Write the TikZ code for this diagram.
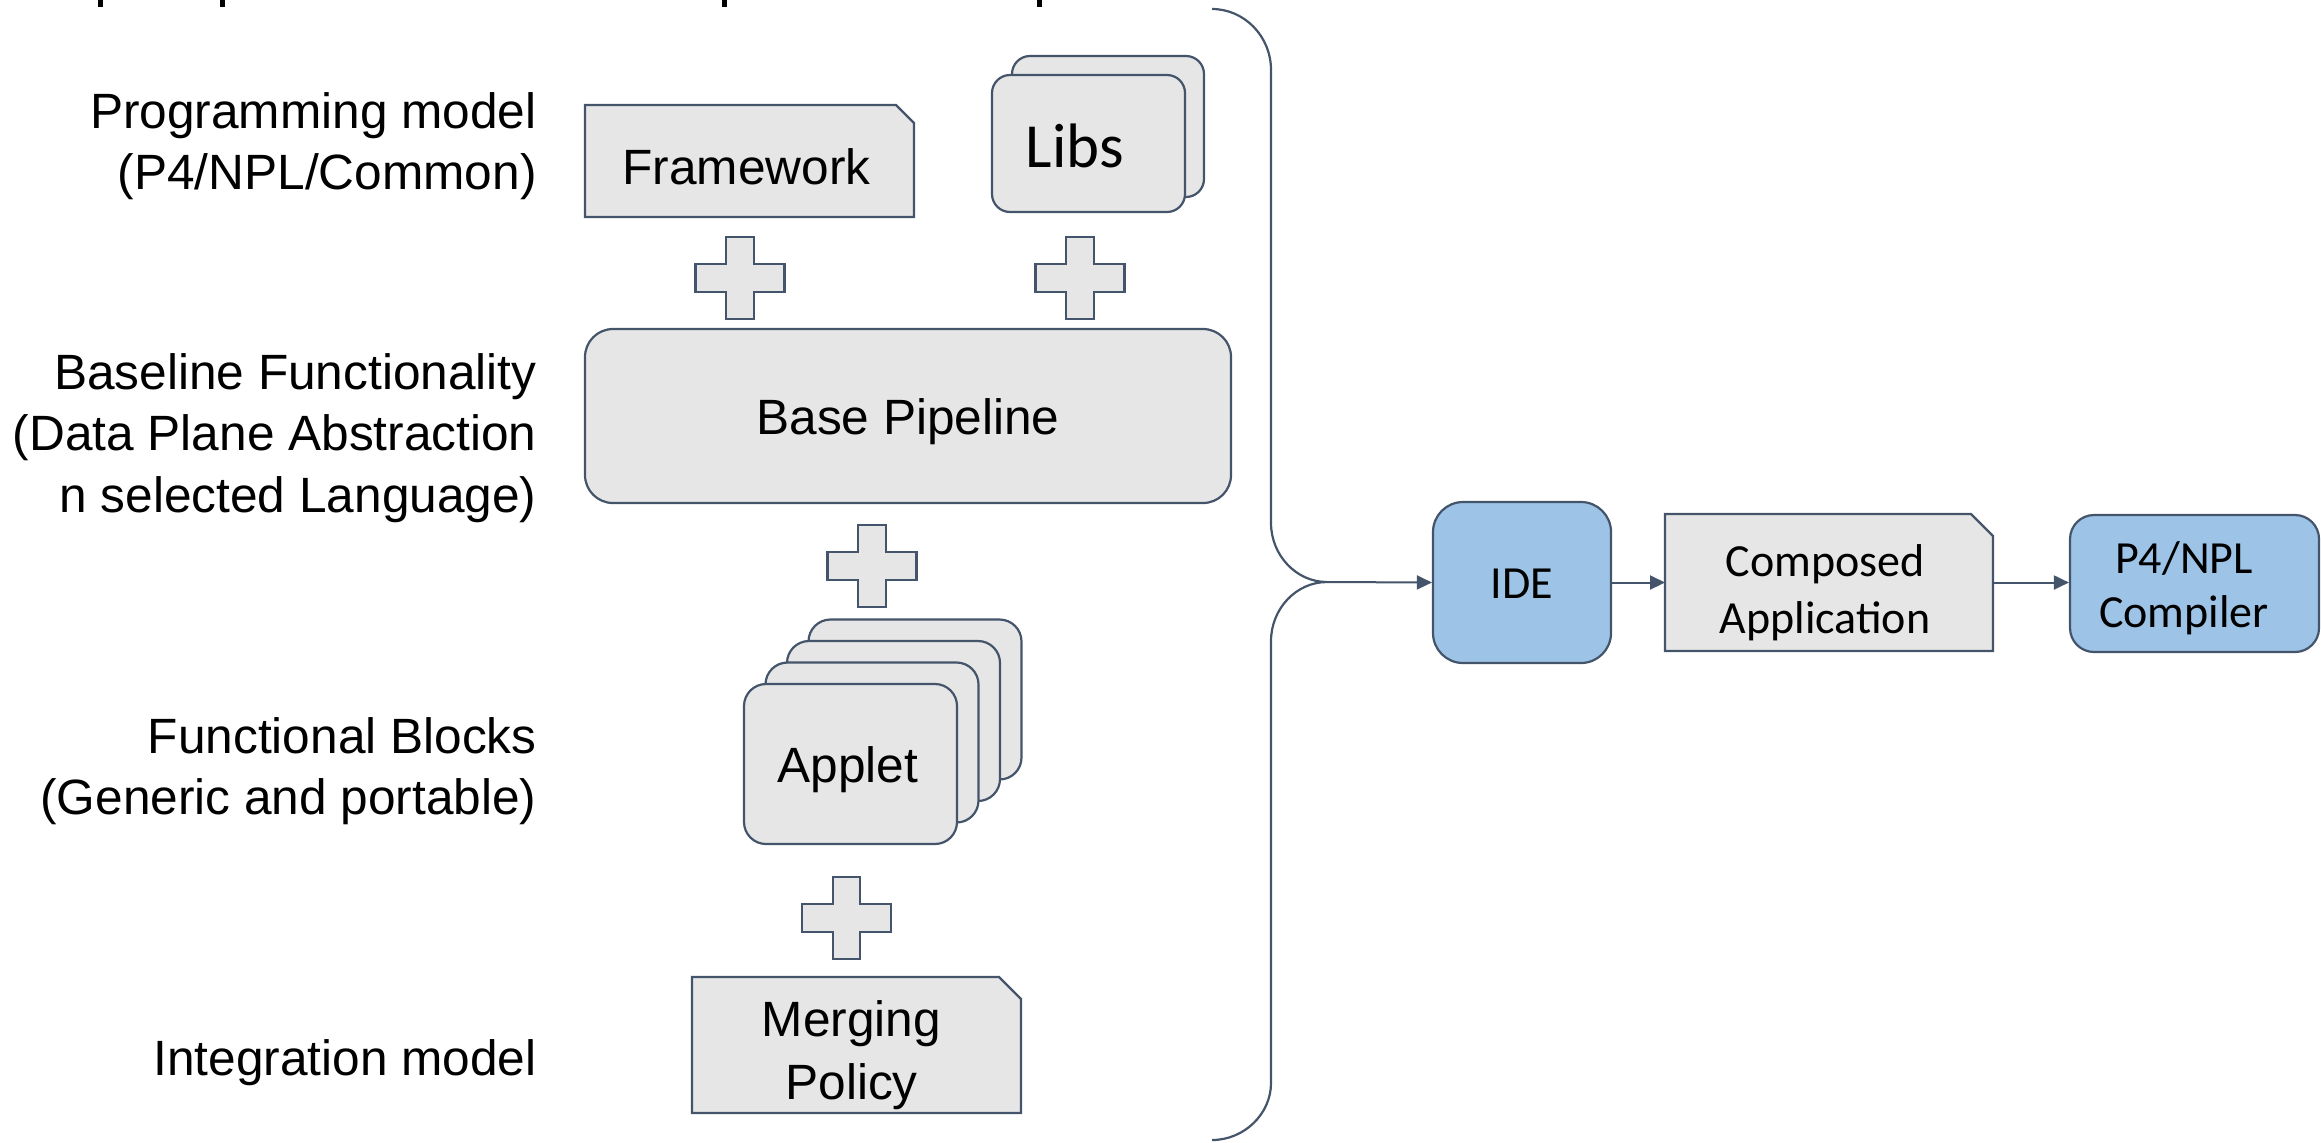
\documentclass[tikz,border=0pt]{standalone}
\usepackage{fontspec}
\setmainfont{Liberation Sans}
\newfontfamily\calibrifont{Carlito}
\usetikzlibrary{arrows.meta,backgrounds}

\definecolor{edge}{HTML}{44546A}
\definecolor{panel}{HTML}{E6E6E6}
\definecolor{toolblue}{HTML}{9DC3E6}

\newcommand\armain{\fontsize{24.8}{30.8}\selectfont}
\newcommand\armerge{\fontsize{24.8}{31.5}\selectfont}
\newcommand\calsmall{\calibrifont\fontsize{23}{28.5}\selectfont}
\newcommand\caltight{\calibrifont\fontsize{23}{27}\selectfont}
\newcommand\calbig{\calibrifont\fontsize{31.4}{36}\selectfont}

\tikzset{
  outline/.style={draw=edge,line width=1.1pt},
  graybox/.style={outline,fill=panel},
  bluebox/.style={outline,fill=toolblue},
  card/.style={graybox,rounded corners=11pt,minimum width=106.5pt,minimum height=80pt,inner sep=0pt},
  docnode/.style={inner sep=0pt,outer sep=0pt},
  boxtext/.style={inner sep=0pt,align=center,font=\armain},
  tooltext/.style={inner sep=0pt,align=center,font=\calsmall},
  lbl/.style={anchor=east,align=right,inner sep=0pt,font=\armain},
  conn/.style={draw=edge,line width=1pt,-{Triangle[length=7.5pt,width=7pt]}},
  plussign/.pic={
    \path[graybox] (-13.75,-41) -- (13.75,-41) -- (13.75,-13.75) -- (44.5,-13.75)
      -- (44.5,13.75) -- (13.75,13.75) -- (13.75,41) -- (-13.75,41) -- (-13.75,13.75)
      -- (-44.5,13.75) -- (-44.5,-13.75) -- (-13.75,-13.75) -- cycle;
  }
}

\begin{document}
\begin{tikzpicture}[x=0.5pt,y=-0.5pt]
\useasboundingbox (0,0) rectangle (2321,1142);

% descenders of the heading line above the frame
\fill[black] (97.5,0) rectangle (102.5,7);
\fill[black] (219.5,0) rectangle (224.5,7);
\fill[black] (721.5,0) rectangle (726.5,7);
\fill[black] (1036.5,0) rectangle (1041.5,7);

% layer captions
\node[lbl] (lprog) at (537,146) {Programming model\\(P4/NPL/Common)};
\node[lbl] (lbase) at (537,438) {Baseline Functionality\\(Data Plane Abstraction\\n selected Language)};
\node[lbl] (lfunc) at (537,771) {Functional Blocks\\(Generic and portable)};
\node[lbl] (linteg) at (537,1063) {Integration model};

% programming model
\node[docnode,minimum width=164.5pt,minimum height=56pt] (fw) at (749.5,161) {};
\node[boxtext] (fwtext) at (746.5,167) {Framework};
\node[graybox,rounded corners=9pt,minimum width=96pt,minimum height=70.5pt] (libsback) at (1108,126.5) {};
\node[graybox,rounded corners=9pt,minimum width=96.5pt,minimum height=68.5pt] (libs) at (1088.5,143.5) {};
\node[font=\calbig,inner sep=0pt] (libstext) at (1075,146) {Libs};

\pic (plusA) at (740,278) {plussign};
\pic (plusB) at (1080,278) {plussign};

% baseline functionality
\node[graybox,rounded corners=14pt,minimum width=323pt,minimum height=87pt] (pipe) at (908,416) {};
\node[boxtext] (pipetext) at (908,422) {Base Pipeline};

\pic (plusC) at (872,566) {plussign};

% functional blocks
\node[card] (applet4) at (915,699.5) {};
\node[card] (applet3) at (893.5,721) {};
\node[card] (applet2) at (872,742.5) {};
\node[card] (applet) at (850.5,764) {};
\node[boxtext] (applettext) at (848,770) {Applet};

\pic (plusD) at (846.5,918) {plussign};

% integration model
\node[docnode,minimum width=164.5pt,minimum height=68pt] (merge) at (856.5,1045) {};
\node[boxtext,font=\armerge] (mergetext) at (851.5,1055) {Merging\\Policy};

% grouping brace
\coordinate (tip) at (1327,582);
\draw[outline] (1212,9) .. controls (1244,9) and (1271,36) .. (1271,70)
  -- (1271,523) .. controls (1271,555) and (1296,582) .. (tip)
  .. controls (1296,582) and (1271,609) .. (1271,641)
  -- (1271,1083) .. controls (1271,1114) and (1244,1140) .. (1212,1140);

% tool chain
\node[bluebox,rounded corners=15pt,minimum width=89pt,minimum height=80.5pt] (ide) at (1522,582.5) {};
\node[tooltext] (idetext) at (1522,584) {IDE};
\node[docnode,minimum width=164pt,minimum height=68.5pt] (comp) at (1829,582.5) {};
\node[tooltext] (comptext) at (1825,592.5) {Composed\\Application};
\node[bluebox,rounded corners=12pt,minimum width=124.5pt,minimum height=68.5pt] (cc) at (2194.5,583.5) {};
\node[tooltext,font=\caltight] (cctext) at (2184,588.5) {P4/NPL\\Compiler};

\draw[conn] (tip) -- (ide.west);
\draw[conn] (ide.east) -- (comp.west);
\draw[conn] (comp.east) -- (comp.east -| cc.west);

% document outlines with a clipped top-right corner
\begin{pgfonlayer}{background}
  \foreach \n/\c in {fw/9pt,merge/11pt,comp/11pt}{
    \path[graybox] (\n.south west) -- (\n.north west) -- ([xshift=-\c]\n.north east)
      -- ([yshift=-\c]\n.north east) -- (\n.south east) -- cycle;
  }
\end{pgfonlayer}
\end{tikzpicture}
\end{document}
